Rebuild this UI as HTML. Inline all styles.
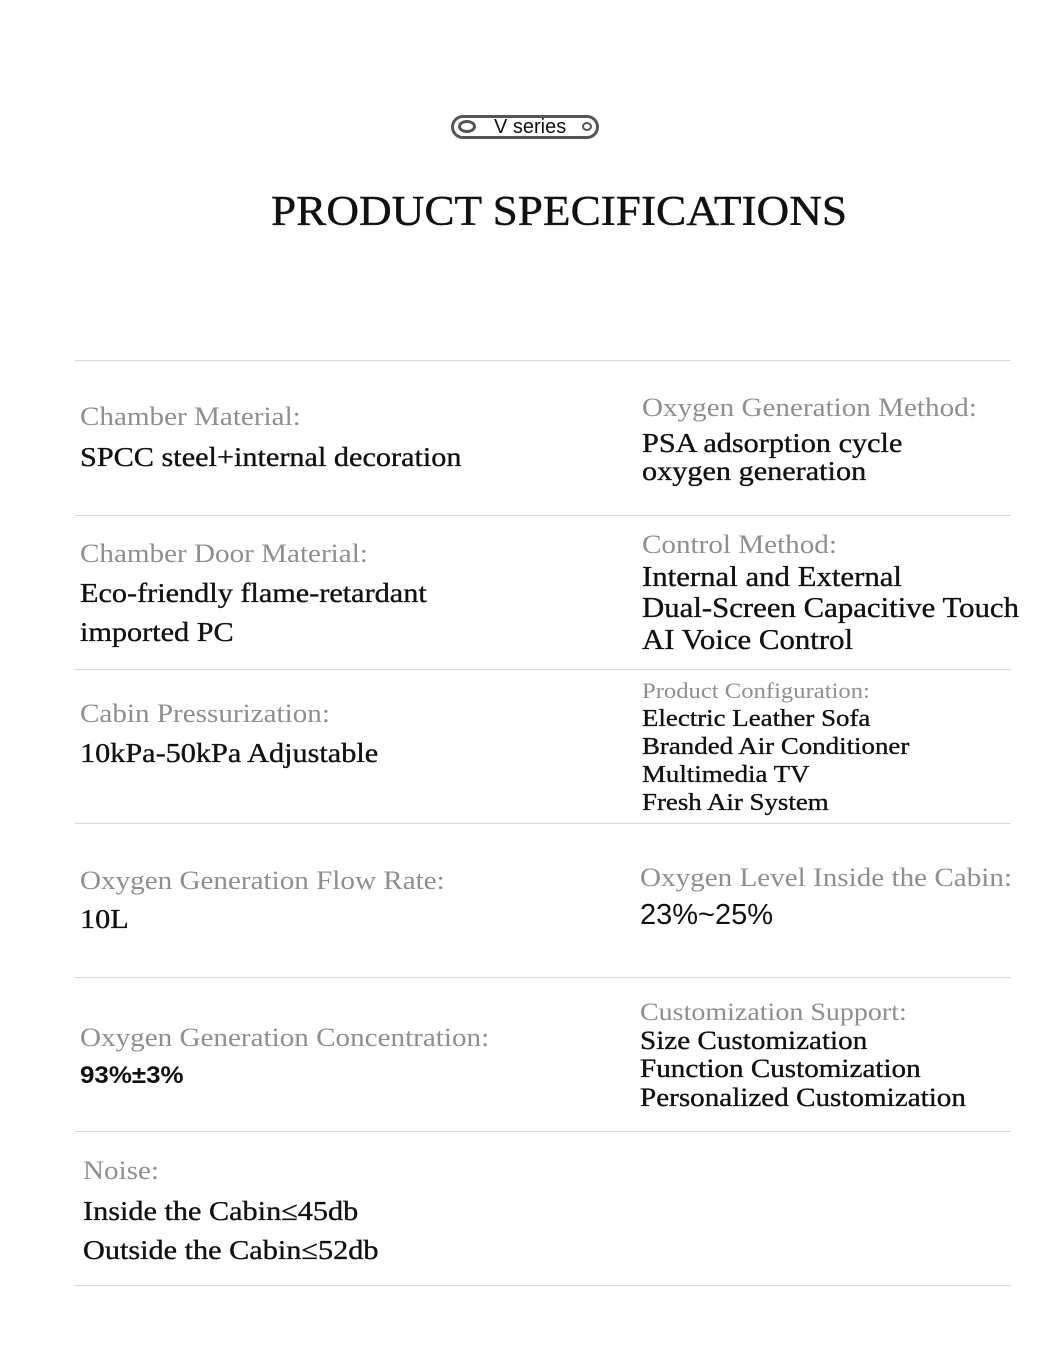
<!DOCTYPE html>
<html><head><meta charset="utf-8"><style>
body{margin:0;width:1054px;height:1347px;background:#fff;position:relative;overflow:hidden;font-family:"Liberation Serif",serif;}
.t{position:absolute;white-space:nowrap;line-height:1;transform:scaleX(1.12);transform-origin:0 0;}
.g{color:#8f8f8f;font-size:26px;}
.v{color:#111;font-size:27px;-webkit-text-stroke:0.35px #111;}
.hr{position:absolute;left:75px;width:936px;height:1px;background:#d8d8d8;}
</style></head><body>
<div style="position:absolute;left:451px;top:115px;width:148px;height:24px;border:3.5px solid #555;border-radius:14px;box-sizing:border-box;background:#fff"></div>
<div style="position:absolute;left:458px;top:120px;width:18px;height:13px;border:3px solid #555;border-radius:50%;box-sizing:border-box"></div>
<div style="position:absolute;left:582px;top:122px;width:10px;height:9px;border:2.5px solid #555;border-radius:50%;box-sizing:border-box"></div>
<div style="position:absolute;left:494px;top:117px;font-family:'Liberation Sans',sans-serif;font-size:20px;color:#111;line-height:1">V series</div>
<div class="t" style="left:271px;top:191px;font-size:42px;color:#111;transform:scaleX(1.077);-webkit-text-stroke:0.4px #111">PRODUCT SPECIFICATIONS</div>

<div class="hr" style="top:360px"></div>
<div class="hr" style="top:515px"></div>
<div class="hr" style="top:669px"></div>
<div class="hr" style="top:823px"></div>
<div class="hr" style="top:977px"></div>
<div class="hr" style="top:1131px"></div>
<div class="hr" style="top:1285px"></div>

<div class="t g" style="left:80px;top:404px">Chamber Material:</div>
<div class="t v" style="left:80px;top:444px">SPCC steel+internal decoration</div>
<div class="t g" style="left:642px;top:395px">Oxygen Generation Method:</div>
<div class="t v" style="left:642px;top:430px">PSA adsorption cycle</div>
<div class="t v" style="left:642px;top:458px">oxygen generation</div>

<div class="t g" style="left:80px;top:541px">Chamber Door Material:</div>
<div class="t v" style="left:80px;top:580px">Eco-friendly flame-retardant</div>
<div class="t v" style="left:80px;top:619px">imported PC</div>
<div class="t g" style="left:642px;top:532px">Control Method:</div>
<div class="t v" style="left:642px;top:564px;font-size:28px;transform:scaleX(1.1)">Internal and External</div>
<div class="t v" style="left:642px;top:595px;font-size:28px;transform:scaleX(1.1)">Dual-Screen Capacitive Touch</div>
<div class="t v" style="left:642px;top:627px;font-size:28px;transform:scaleX(1.1)">AI Voice Control</div>

<div class="t g" style="left:80px;top:701px">Cabin Pressurization:</div>
<div class="t v" style="left:80px;top:740px">10kPa-50kPa Adjustable</div>
<div class="t g" style="left:642px;top:680px;font-size:22px">Product Configuration:</div>
<div class="t v" style="left:642px;top:707px;font-size:24px">Electric Leather Sofa</div>
<div class="t v" style="left:642px;top:735px;font-size:24px">Branded Air Conditioner</div>
<div class="t v" style="left:642px;top:763px;font-size:24px">Multimedia TV</div>
<div class="t v" style="left:642px;top:791px;font-size:24px">Fresh Air System</div>

<div class="t g" style="left:80px;top:868px">Oxygen Generation Flow Rate:</div>
<div class="t v" style="left:80px;top:906px">10L</div>
<div class="t g" style="left:640px;top:865px">Oxygen Level Inside the Cabin:</div>
<div class="t v" style="left:640px;top:901px;font-family:'Liberation Sans',sans-serif;font-size:29px;transform:scaleX(1.0);-webkit-text-stroke:0">23%~25%</div>

<div class="t g" style="left:80px;top:1025px">Oxygen Generation Concentration:</div>
<div class="t v" style="left:80px;top:1064px;font-family:'Liberation Sans',sans-serif;font-size:24px;font-weight:bold;transform:scaleX(1.08);-webkit-text-stroke:0">93%±3%</div>
<div class="t g" style="left:640px;top:1000px;font-size:25px">Customization Support:</div>
<div class="t v" style="left:640px;top:1028px;font-size:26px">Size Customization</div>
<div class="t v" style="left:640px;top:1056px;font-size:26px">Function Customization</div>
<div class="t v" style="left:640px;top:1085px;font-size:26px">Personalized Customization</div>

<div class="t g" style="left:83px;top:1158px">Noise:</div>
<div class="t v" style="left:83px;top:1198px">Inside the Cabin≤45db</div>
<div class="t v" style="left:83px;top:1237px">Outside the Cabin≤52db</div>
</body></html>
